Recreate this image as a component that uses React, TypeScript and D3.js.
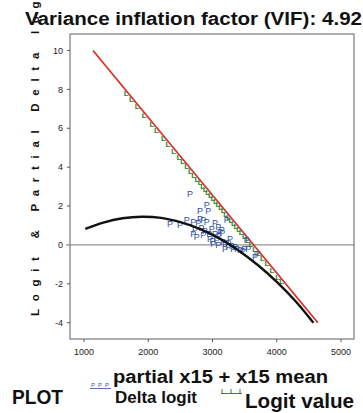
import React from "react";
import * as d3 from "d3";

// ---- data ----
const xTicks = [1000, 2000, 3000, 4000, 5000];
const yTicks = [-4, -2, 0, 2, 4, 6, 8, 10];

// Logit value fitted line (red)
const logitLineX = [1140, 4640];
const logitLineY = [10, -4];

// Logit value points (green "L" symbols)
const logitPtsX = [1680, 1760, 1850, 1960, 2080, 2150, 2260, 2330, 2420, 2500, 2560, 2620, 2680, 2730, 2780, 2830, 2870, 2910, 2950, 2990, 3030, 3070, 3110, 3150, 3190, 3230, 3270, 3310, 3350, 3390, 3430, 3470, 3520, 3570, 3620, 3680, 3740, 3800, 3870, 3950, 4040, 4100];
const logitPtsY = [7.84, 7.52, 7.16, 6.72, 6.24, 5.96, 5.52, 5.24, 4.88, 4.56, 4.32, 4.08, 3.84, 3.64, 3.44, 3.24, 3.08, 2.92, 2.76, 2.6, 2.44, 2.28, 2.12, 1.96, 1.8, 1.64, 1.48, 1.32, 1.16, 1.0, 0.84, 0.68, 0.48, 0.28, 0.08, -0.16, -0.4, -0.64, -0.92, -1.24, -1.6, -1.84];

// Partial delta logit points (blue "P" symbols)
const deltaX = [2650, 2339, 2494, 2598, 2702, 2728, 2805, 2909, 2935, 2805, 2857, 2909, 2779, 3039, 3091, 3221, 3143, 3117, 2702, 2754, 2857, 2961, 3065, 3168, 3272, 3246, 3324, 3428, 3557, 3661, 3013, 3091, 3195, 3532, 3687, 2830, 2880, 2990, 3040, 3100, 3150, 3200, 3250, 3300, 3350, 3380, 3470, 3500, 2950, 3000];
const deltaY = [2.65, 1.07, 1.02, 1.31, 1.19, 0.76, 1.76, 2.05, 1.76, 1.36, 1.28, 1.19, 1.11, 1.11, 0.93, 1.28, 0.8, 0.67, 0.59, 0.42, 0.5, 0.33, 0.25, 0.16, 0.33, -0.1, -0.18, -0.27, -0.18, -0.61, 0.08, -0.01, -0.18, 0.25, -0.44, 0.9, 0.7, 0.85, 0.55, 0.45, 0.6, 0.05, 0.12, -0.05, -0.12, -0.2, -0.3, -0.22, 0.55, 0.2];

// Smooth partial curve (black)
const curveX = [1020, 1300, 1600, 1900, 2200, 2500, 2800, 3100, 3400, 3700, 4000, 4300, 4570];
const curveY = [0.82, 1.15, 1.37, 1.45, 1.39, 1.17, 0.83, 0.35, -0.27, -1.02, -1.9, -2.92, -4.0];

const title = "Variance inflation factor (VIF): 4.92";
const yLabel = "Logit & Partial Delta logit";
const xLabel = "partial x15 + x15 mean";

const FONT = "'Liberation Sans', Arial, sans-serif";

export default function App() {
  const W = 363, H = 413;
  const frame = { l: 70, r: 354, t: 34, b: 339 };
  const x = d3.scaleLinear().domain([1000, 5000]).range([84, 341]);
  const y = d3.scaleLinear().domain([-4, 10]).range([322.7, 50.5]);

  const line = d3.line<[number, number]>().x(d => x(d[0])).y(d => y(d[1]));
  const smooth = d3.line<[number, number]>().x(d => x(d[0])).y(d => y(d[1])).curve(d3.curveCatmullRom);

  const redPts: [number, number][] = logitLineX.map((v, i) => [v, logitLineY[i]]);
  const blackPts: [number, number][] = curveX.map((v, i) => [v, curveY[i]]);

  const green = "#1f8a2e";
  const red = "#d8342c";
  const blue = "#2f4ea6";

  return (
    <svg width={W} height={H} style={{ position: "absolute", left: 0, top: 0, background: "#fff" }} fontFamily={FONT}>
      {/* frame */}
      <rect x={frame.l} y={frame.t} width={frame.r - frame.l} height={frame.b - frame.t} fill="none" stroke="#7a7a7a" strokeWidth={1.2} />
      {/* zero reference line */}
      <line x1={66} x2={frame.r} y1={y(0)} y2={y(0)} stroke="#777" strokeWidth={1} />
      {/* y ticks */}
      {yTicks.map(t => (
        <g key={"y" + t}>
          {t !== 0 && <line x1={frame.l - 3} x2={frame.l} y1={y(t)} y2={y(t)} stroke="#555" strokeWidth={1} />}
          <text x={63} y={y(t)} dy="0.35em" textAnchor="end" fontSize={9} fill="#222">{t}</text>
        </g>
      ))}
      {/* x ticks */}
      {xTicks.map(t => (
        <g key={"x" + t}>
          <line x1={x(t)} x2={x(t)} y1={frame.b} y2={frame.b + 3} stroke="#555" strokeWidth={1} />
          <text x={x(t)} y={355} textAnchor="middle" fontSize={9} fill="#222">{t}</text>
        </g>
      ))}
      {/* green L symbols */}
      {logitPtsX.map((v, i) => (
        <text key={"g" + i} x={x(v) - 1.5} y={y(logitPtsY[i]) + 3.5} textAnchor="middle" fontSize={8} fontWeight="bold" fill={green}>L</text>
      ))}
      {/* red fitted line */}
      <path d={line(redPts) || ""} fill="none" stroke={red} strokeWidth={1.8} />
      {/* blue P symbols */}
      {deltaX.map((v, i) => (
        <text key={"p" + i} x={x(v)} y={y(deltaY[i])} dy="0.35em" textAnchor="middle" fontSize={9} fill={blue}>P</text>
      ))}
      {/* black curve */}
      <path d={smooth(blackPts) || ""} fill="none" stroke="#111" strokeWidth={2.4} />

      {/* title */}
      <text x={193.5} y={25} textAnchor="middle" fontSize={18} fontWeight="bold" fill="#111" textLength={337} lengthAdjust="spacingAndGlyphs">{title}</text>
      {/* y label */}
      <text transform="translate(38.5,316) rotate(-90)" x={0} y={0} fontSize={11.5} fontWeight="bold" fill="#111" textLength={337} lengthAdjust="spacing">{yLabel}</text>
      {/* x label */}
      <text x={220.5} y={383} textAnchor="middle" fontSize={18} fontWeight="bold" fill="#111" textLength={215} lengthAdjust="spacingAndGlyphs">{xLabel}</text>
      {/* legend */}
      <text x={12} y={404} fontSize={20} fontWeight="bold" fill="#111" textLength={51} lengthAdjust="spacingAndGlyphs">PLOT</text>
      {[0, 1, 2].map(k => (
        <text key={"lp" + k} x={93 + k * 7} y={387} textAnchor="middle" fontSize={6} fill={blue}>P</text>
      ))}
      <line x1={90} x2={111} y1={388.5} y2={388.5} stroke={blue} strokeWidth={0.8} />
      <text x={115} y={403} fontSize={17} fontWeight="bold" fill="#111" textLength={82} lengthAdjust="spacingAndGlyphs">Delta logit</text>
      {[0, 1, 2].map(k => (
        <line key={"lg" + k} x1={222 + k * 9} x2={222 + k * 9} y1={389} y2={393} stroke={green} strokeWidth={1} />
      ))}
      <line x1={221} x2={242} y1={393.5} y2={393.5} stroke={red} strokeWidth={1} />
      <text x={245} y={408} fontSize={21} fontWeight="bold" fill="#111" textLength={109} lengthAdjust="spacingAndGlyphs">Logit value</text>
    </svg>
  );
}
